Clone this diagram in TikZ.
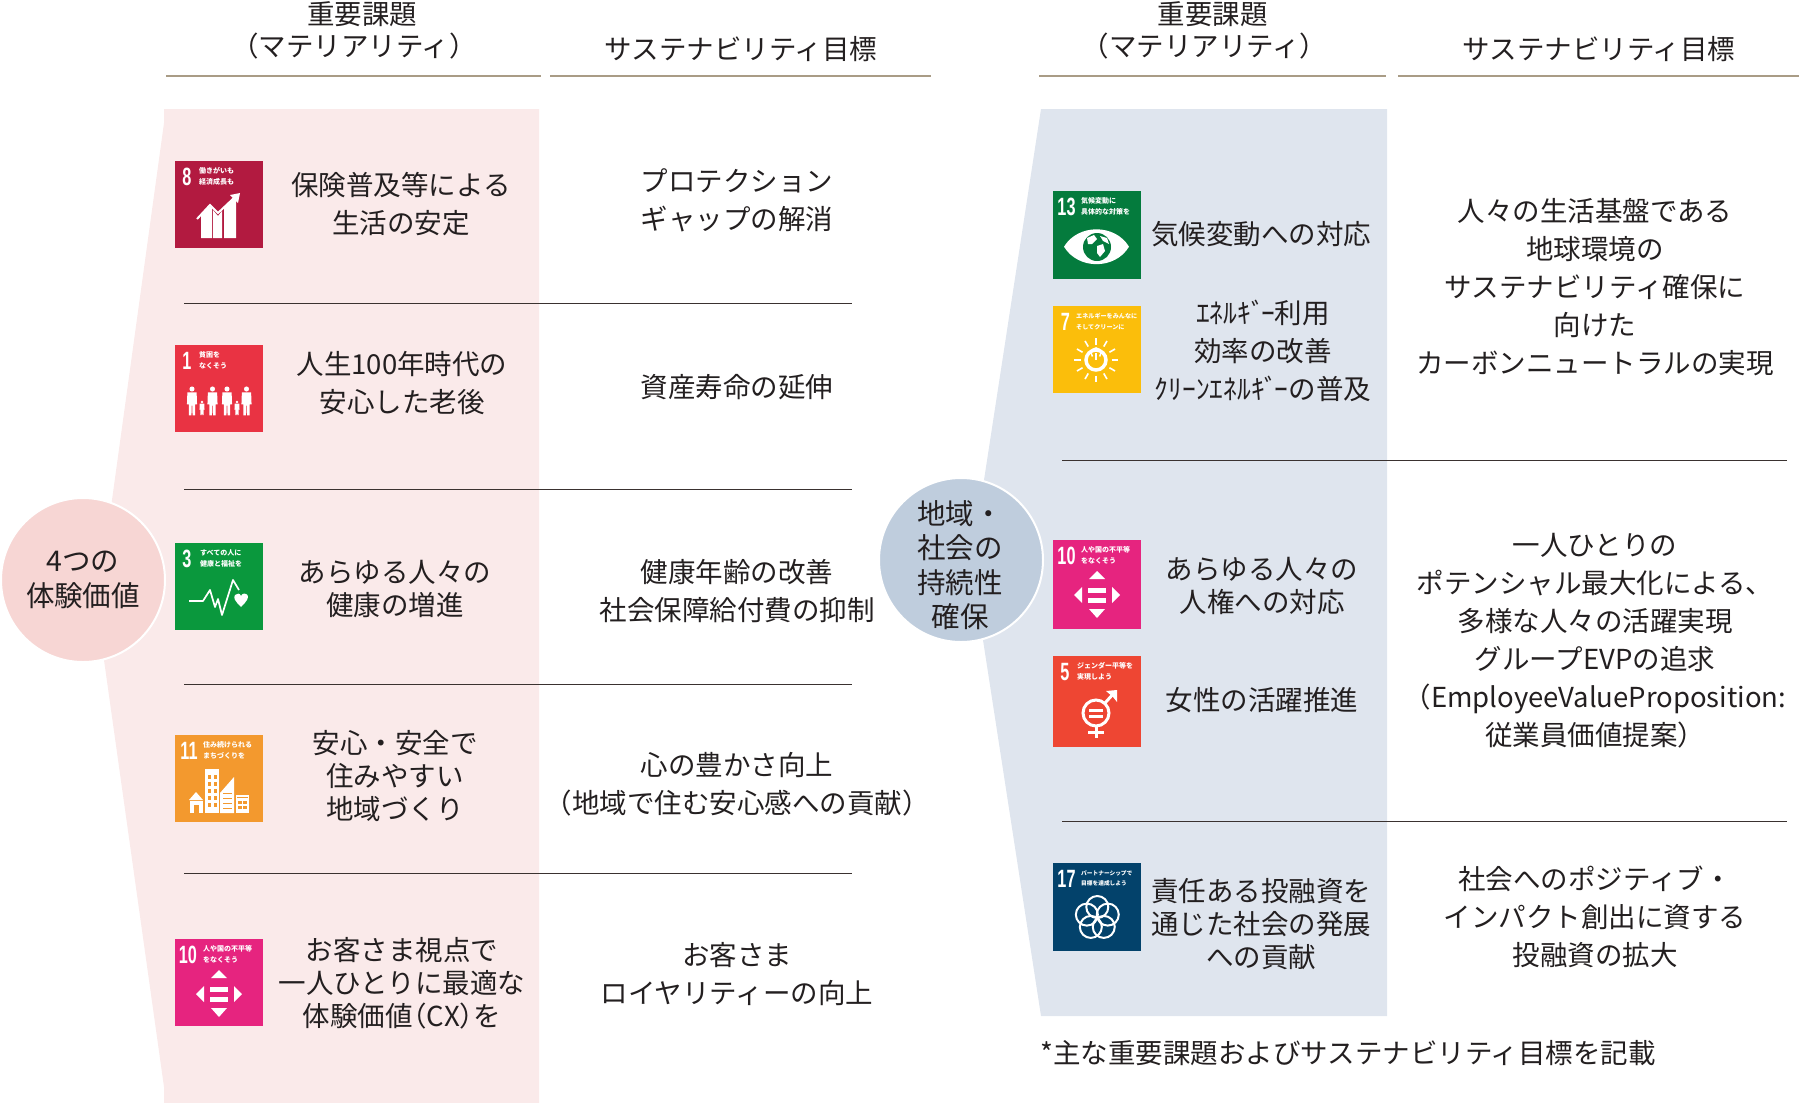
\documentclass[tikz,border=0pt]{standalone}
\usepackage{fontspec}
\usepackage{graphicx}
\usetikzlibrary{calc}
\setmainfont{Noto Sans CJK JP}
\newfontfamily\sdgnumfont{Liberation Sans}
\definecolor{tan}{HTML}{A99C86}
\definecolor{sep}{HTML}{3A3230}
\definecolor{ink}{HTML}{231F20}
\definecolor{pinkbg}{HTML}{FAEAEA}
\definecolor{pinkc}{HTML}{F7D6D4}
\definecolor{bluebg}{HTML}{DFE5EE}
\definecolor{bluec}{HTML}{BFCDDD}
\definecolor{sdgA}{HTML}{B21A40}
\definecolor{sdgB}{HTML}{E93343}
\definecolor{sdgC}{HTML}{0A983D}
\definecolor{sdgD}{HTML}{F3992E}
\definecolor{sdgE}{HTML}{E6247F}
\definecolor{sdgF}{HTML}{047B3D}
\definecolor{sdgG}{HTML}{FBBE0B}
\definecolor{sdgH}{HTML}{EE4633}
\definecolor{sdgI}{HTML}{03426B}
\def\tinysz{7}
\newcommand{\dk}{\kern-.14em }
\tikzset{
  headtext/.style={text=ink,align=center,inner sep=0pt,font=\fontsize{27.5}{32}\selectfont},
  bodytext/.style={text=ink,align=center,inner sep=0pt,font=\fontsize{27.5}{38}\selectfont},
  tighttext/.style={text=ink,align=center,inner sep=0pt,font=\fontsize{27.5}{33}\selectfont},
  circtext/.style={text=ink,align=center,inner sep=0pt,font=\fontsize{28.5}{34.5}\selectfont},
  headrule/.style={draw=tan,line width=2pt},
  seprule/.style={draw=sep,line width=1pt},
  iconbox/.style={anchor=north west,inner sep=0pt,outer sep=0pt,minimum width=88pt},
  iconnum/.style={text=white,inner sep=0pt,font=\sdgnumfont\bfseries\fontsize{25}{25}\selectfont},
  icontiny/.style={text=white,anchor=west,align=left,inner sep=0pt,font=\bfseries\fontsize{\tinysz}{10.5}\selectfont}
}
% #1 name, #2 x, #3 y, #4 height, #5 colour, #6 number, #7 number centre x, #8 tiny-text x, #9 tiny text
\newcommand{\sdgicon}[9]{%
  \node[iconbox,minimum height=#4pt,fill=#5] (#1) at (#2,#3) {};
  \node[iconnum] (#1num) at (#2+#7,#3+16) {\scalebox{.65}[1]{#6}};
  \node[icontiny] (#1txt) at (#2+#8,#3+15.5) {#9};
}
\newcommand{\famfig}[3]{% x, head y, scale
  \fill[white] (#1,#2) circle ({2.3*#3});
  \fill[white] ({#1-4.2*#3},{#2+3*#3}) -- ({#1+4.2*#3},{#2+3*#3}) -- ({#1+4.6*#3},{#2+14*#3}) -- ({#1+2.8*#3},{#2+14*#3}) -- ({#1+2.8*#3},{#2+24*#3}) -- ({#1+.5*#3},{#2+24*#3}) -- ({#1+.3*#3},{#2+15*#3}) -- ({#1-.3*#3},{#2+15*#3}) -- ({#1-.5*#3},{#2+24*#3}) -- ({#1-2.8*#3},{#2+24*#3}) -- ({#1-2.8*#3},{#2+14*#3}) -- ({#1-4.6*#3},{#2+14*#3}) -- cycle;
}
\begin{document}
\begin{tikzpicture}[x=1pt,y=-1pt]
\useasboundingbox (0,0) rectangle (1800,1103);
% panels
\fill[pinkbg] (164,109) -- (539,109) -- (539,1103) -- (164,1103) -- (164,1087) -- (104,660) -- (112,500) -- (164,123) -- cycle;
\fill[bluebg] (1041,109) -- (1387,109) -- (1387,1016) -- (1041,1016) -- (983,640) -- (984,480) -- cycle;
% rules
\coordinate (hA) at (166,76); \coordinate (hB) at (541,76);
\coordinate (hC) at (550,76); \coordinate (hD) at (931,76);
\coordinate (hE) at (1039,76); \coordinate (hF) at (1386,76);
\coordinate (hG) at (1398,76); \coordinate (hH) at (1799,76);
\draw[headrule] (hA) -- (hB);
\draw[headrule] (hC) -- (hD);
\draw[headrule] (hE) -- (hF);
\draw[headrule] (hG) -- (hH);
\foreach \yy/\nm in {303/a,489/b,684/c,873/d}{
  \coordinate (sl\nm) at (184,\yy); \coordinate (sr\nm) at (852,\yy);
  \draw[seprule] (sl\nm) -- (sr\nm);
}
\foreach \yy/\nm in {460/e,821/f}{
  \coordinate (sl\nm) at (1062,\yy); \coordinate (sr\nm) at (1787,\yy);
  \draw[seprule] (sl\nm) -- (sr\nm);
}
% circles
\node[circle,fill=pinkc,draw=white,line width=2pt,minimum size=164pt,inner sep=0pt] (expc) at (83,580) {};
\node[circle,fill=bluec,draw=white,line width=2pt,minimum size=164pt,inner sep=0pt] (susc) at (961,560) {};
\node[circtext] (expt) at (83,580) {4つの\\体験価値};
\node[circtext] (sust) at (960,565) {地域・\\社会の\\持続性\\確保};
% headers
\node[headtext] (h1) at (358,30.5) {\hspace*{8pt}重要課題\\（マテリアリティ）\hspace*{8pt}};
\node[headtext] (h2) at (741,49) {サステナビリティ目標};
\node[headtext] (h3) at (1208.5,30.5) {\hspace*{8pt}重要課題\\（マテリアリティ）\hspace*{8pt}};
\node[headtext] (h4) at (1599,49) {サステナビリティ目標};
% left column text
\node[bodytext] (l1) at (401,204) {保険普及等による\\生活の安定};
\node[bodytext] (l2) at (402,383) {人生100年時代の\\安心した老後};
\node[tighttext] (l3) at (395,589) {あらゆる人々の\\健康の増進};
\node[tighttext] (l4) at (395,775.5) {安心・安全で\\住みやすい\\地域づくり};
\node[tighttext] (l5) at (402,983) {お客さま視点で\\一人ひとりに最適な\\体験価値\kern-.5em （CX）\kern-.5em を};
\node[bodytext] (m1) at (737,200) {プロテクション\\ギャップの解消};
\node[bodytext] (m2) at (737,387) {資産寿命の延伸};
\node[bodytext] (m3) at (737,591) {健康年齢の改善\\社会保障給付費の抑制};
\node[bodytext] (m4) at (737,784) {心の豊かさ向上\\（地域で住む安心感への貢献）};
\node[bodytext] (m5) at (737,974) {お客さま\\ロイヤリティーの向上};
% right column text
\node[bodytext] (r1) at (1261,234) {気候変動への対応};
\node[bodytext] (r2) at (1263,351) {ｴﾈﾙｷﾞ\dk ｰ利用\\効率の改善\\ｸﾘｰﾝｴﾈﾙｷﾞ\dk ｰの普及};
\node[tighttext] (r3) at (1262,586) {あらゆる人々の\\人権への対応};
\node[bodytext] (r4) at (1262,700) {女性の活躍推進};
\node[tighttext] (r5) at (1261,924) {責任ある投融資を\\通じた社会の発展\\への貢献};
\node[bodytext] (g1) at (1595,287) {人々の生活基盤である\\地球環境の\\サステナビリティ確保に\\向けた\\カーボンニュートラルの実現};
\node[bodytext] (g2) at (1595,641) {一人ひとりの\\ポテンシャル最大化による、\\多様な人々の活躍実現\\グループEVPの追求\\（EmployeeValueProposition:\\従業員価値提案）};
\node[bodytext] (g3) at (1595,917) {社会へのポジティブ・\\インパクト創出に資する\\投融資の拡大};
\node[bodytext,anchor=west] (fn) at (1040,1053.5) {*主な重要課題およびサステナビリティ目標を記載};
% icons
\sdgicon{iconA}{175}{161}{87}{sdgA}{8}{12}{24}{働きがいも\\経済成長も}
\begin{scope}[shift={(175,161)}]
  \fill[white] (26,54) -- (35,45) -- (37,47) -- (37,77) -- (26,77) -- cycle;
  \fill[white] (38,49) -- (43,55) -- (47,50) -- (47,77) -- (38,77) -- cycle;
  \fill[white] (49,46) -- (61,34) -- (61,77) -- (49,77) -- cycle;
  \draw[white,line width=2pt] (22,58) -- (35,44) -- (43,52) -- (60,36);
  \fill[white] (65,32) -- (63,42) -- (55,34) -- cycle;
\end{scope}
\sdgicon{iconB}{175}{345}{87}{sdgB}{1}{12}{24}{貧困を\\なくそう}
\begin{scope}[shift={(175,345)}]
  \famfig{17}{44}{1.1}\famfig{27}{57}{.55}\famfig{37.5}{44}{1.1}\famfig{52}{44}{1.1}\famfig{62}{57}{.55}\famfig{71.5}{44}{1.1}
\end{scope}
\sdgicon{iconC}{175}{543}{87}{sdgC}{3}{12}{25}{すべての人に\\健康と福祉を}
\begin{scope}[shift={(175,543)}]
  \draw[white,line width=1.7pt,line join=round] (14,58) -- (28,58) -- (35,47) -- (40,64) -- (43,56) -- (47,72) -- (58,37) -- (64,47);
  \fill[white] (66,64) .. controls (60,58) and (58,55) .. (60,52) .. controls (62,50) and (65,50) .. (66,53) .. controls (67,50) and (71,50) .. (72.5,52) .. controls (74,55) and (72,58) .. (66,64) -- cycle;
\end{scope}
\sdgicon{iconD}{175}{735}{87}{sdgD}{11}{14}{28}{住み続けられる\\まちづくりを}
\begin{scope}[shift={(175,735)}]
  \fill[white] (14,65) -- (21,57) -- (28,65) -- cycle;
  \fill[white] (15,66) rectangle (28,78);
  \fill[sdgD] (19,70) rectangle (24,78);
  \fill[white] (30,34) rectangle (44,78);
  \foreach \cy in {40,47,54,61,68}{\fill[sdgD] (32.5,\cy) rectangle (35.5,\cy+3.5);\fill[sdgD] (38.5,\cy) rectangle (41.5,\cy+3.5);}
  \fill[white] (45,78) -- (45,58) -- (59,42) -- (59,78) -- cycle;
  \foreach \cy in {58,63,68,73}{\fill[sdgD] (48,\cy) rectangle (57,\cy+1.2);}
  \fill[white] (61,60) rectangle (74,78);
  \fill[sdgD] (62,62) rectangle (73,63);
  \foreach \cy in {66,71}{\fill[sdgD] (63,\cy) rectangle (67,\cy+3);\fill[sdgD] (68,\cy) rectangle (72,\cy+3);}
\end{scope}
\sdgicon{iconE}{175}{939}{87}{sdgE}{10}{13}{28}{人や国の不平等\\をなくそう}
\begin{scope}[shift={(175,939)}]
  \fill[white] (44,31) -- (52,39) -- (36,39) -- cycle;
  \fill[white] (44,78) -- (52,69) -- (36,69) -- cycle;
  \fill[white] (21,55) -- (29,47) -- (29,63) -- cycle;
  \fill[white] (67,55) -- (59,47) -- (59,63) -- cycle;
  \fill[white] (35,48) rectangle (53,53);
  \fill[white] (35,58) rectangle (53,63);
\end{scope}
\sdgicon{iconF}{1053}{191}{88}{sdgF}{13}{13.5}{28}{気候変動に\\具体的な対策を}
\begin{scope}[shift={(1053,191)}]
  \fill[white] (11,55.7) .. controls (25,32.5) and (62,32.5) .. (76,55.7) .. controls (62,79) and (25,79) .. (11,55.7) -- cycle;
  \fill[sdgF] (44,56) circle (14);
  \fill[white] (34,47) -- (41,44) -- (44,48) -- (39,53) -- (35,53) -- cycle;
  \fill[white] (44,55) -- (50,53) -- (52,60) -- (47,66) -- (44,62) -- cycle;
  \fill[white] (47,45) -- (54,47) -- (56,53) -- (50,50) -- cycle;
\end{scope}
\def\tinysz{6.1}
\sdgicon{iconG}{1053}{306}{87}{sdgG}{7}{12.5}{23}{エネルギーをみんなに\\そしてクリーンに}
\def\tinysz{7}
\begin{scope}[shift={(1053,306)}]
  \foreach \ang in {0,30,...,330}{\draw[white,line width=1.6pt] ($(43,54)+(\ang:15.5)$) -- ($(43,54)+(\ang:22)$);}
  \draw[white,line width=3.5pt] (43,54) circle (10);
  \draw[white,line width=1.5pt] (39.5,50.5) arc[start angle=135,end angle=405,radius=5];
  \draw[white,line width=1.5pt] (43,47) -- (43,54);
\end{scope}
\sdgicon{iconH}{1053}{540}{89}{sdgE}{10}{13.5}{28}{人や国の不平等\\をなくそう}
\begin{scope}[shift={(1053,540)}]
  \fill[white] (44,31) -- (52,39) -- (36,39) -- cycle;
  \fill[white] (44,78) -- (52,69) -- (36,69) -- cycle;
  \fill[white] (21,55) -- (29,47) -- (29,63) -- cycle;
  \fill[white] (67,55) -- (59,47) -- (59,63) -- cycle;
  \fill[white] (35,48) rectangle (53,53);
  \fill[white] (35,58) rectangle (53,63);
\end{scope}
\sdgicon{iconI}{1053}{656}{91}{sdgH}{5}{12}{24}{ジェンダー平等を\\実現しよう}
\begin{scope}[shift={(1053,656)}]
  \draw[white,line width=3pt] (43,57) circle (13);
  \draw[white,line width=3pt] (52,47) -- (61,37);
  \fill[white] (64,34) -- (64,46) -- (60,41) -- (53,35) -- cycle;
  \draw[white,line width=3pt] (43,70) -- (43,82);
  \draw[white,line width=3pt] (35,76) -- (51,76);
  \fill[white] (36,52.5) rectangle (50,55.5);
  \fill[white] (36,58.5) rectangle (50,61.5);
\end{scope}
\def\tinysz{5.7}
\sdgicon{iconJ}{1053}{863}{88}{sdgI}{17}{13.5}{28}{パートナーシップで\\目標を達成しよう}
\def\tinysz{7}
\begin{scope}[shift={(1053,863)}]
  \foreach \ang in {90,162,234,306,18}{\draw[white,line width=2pt] ($(44.3,55)+(\ang:-11)$) circle (11);}
\end{scope}
\end{tikzpicture}
\end{document}
